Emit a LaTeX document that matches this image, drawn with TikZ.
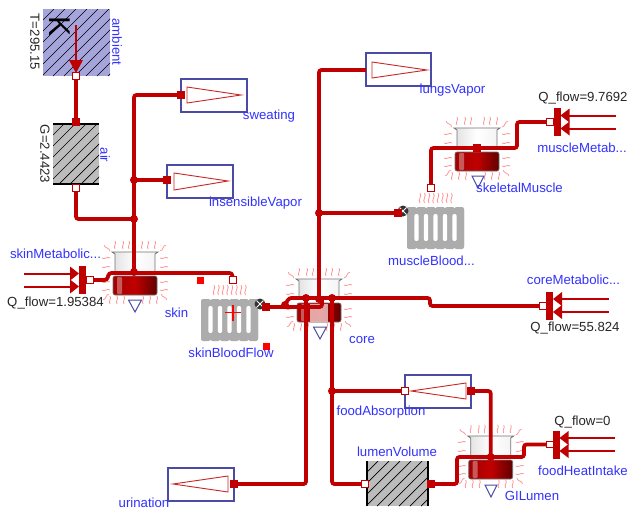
\documentclass[tikz,border=0pt]{standalone}
\usepackage{fontspec}
\setmainfont{Liberation Sans}
\definecolor{wirered}{RGB}{192,0,0}
\definecolor{heatpink}{RGB}{255,150,150}
\definecolor{lblblue}{RGB}{50,50,255}
\definecolor{boxblue}{RGB}{75,75,165}
\definecolor{ambfill}{RGB}{165,165,220}
\definecolor{condfill}{RGB}{188,188,188}
\definecolor{radgrey}{RGB}{172,172,172}
\newcommand{\hatchrect}[5]{%
  \fill[#5] (#1,#2) rectangle (#3,#4);
  \begin{scope}
    \clip (#1,#2) rectangle (#3,#4);
    \foreach \k in {0,11,...,150}{
      \draw[black,line width=.7pt] ({#1+\k-(#4-#2)},#4) -- ({#1+\k},#2);
    }
  \end{scope}}
\tikzset{
  wire/.style={draw=wirered,line width=3.8pt,rounded corners=2.5pt},
  junct/.style={circle,fill=wirered,inner sep=0,minimum size=8pt},
  fport/.style={rectangle,fill=wirered,inner sep=0,minimum size=8pt},
  wport/.style={rectangle,fill=white,draw=wirered,line width=1pt,inner sep=0,minimum size=6.5pt},
  lbl/.style={text=lblblue,inner sep=0,font=\fontsize{13.2}{14}\selectfont},
  val/.style={text=black!85,inner sep=0,font=\fontsize{13.2}{14}\selectfont},
  heat/.style={draw=heatpink,line width=.8pt},
  expbox/.style={draw=boxblue,line width=1.2pt,fill=white},
  expcone/.style={draw=wirered!85!white,line width=.9pt},
  beaker/.pic={
    \foreach \a in {-20,-12,-6,7,13,20}{\draw[heat,shift={(\a,-28)}] (0,-4) .. controls (2,-1.5) and (-2,1.5) .. (0,4);}
    \foreach \a in {-25,-18,-11,8,15,22}{\draw[heat,shift={(\a,27)}] (0,-4) .. controls (2,-1.5) and (-2,1.5) .. (0,4);}
    \foreach \a in {-15,-6,9,17}{
      \draw[heat,shift={(-29,\a)}] (-4,0) .. controls (-1.5,2) and (1.5,-2) .. (4,0);
      \draw[heat,shift={(29,\a)}] (-4,0) .. controls (-1.5,2) and (1.5,-2) .. (4,0);}
    \draw[heat,shift={(-28,-25)},rotate=-45] (-4,0) .. controls (-1.5,2) and (1.5,-2) .. (4,0);
    \draw[heat,shift={(28,-25)},rotate=45] (-4,0) .. controls (-1.5,2) and (1.5,-2) .. (4,0);
    \draw[heat,shift={(-29,24)},rotate=45] (-4,0) .. controls (-1.5,2) and (1.5,-2) .. (4,0);
    \draw[heat,shift={(29,24)},rotate=-45] (-4,0) .. controls (-1.5,2) and (1.5,-2) .. (4,0);
    \path[draw=black!55,line width=.8pt,left color=black!12,right color=black!5,middle color=white]
      (-23,-21) -- (-20,-19) -- (-20,-1) -- (20,-1) -- (20,-19) -- (23,-21) -- cycle;
    \path[draw=black!55,line width=.6pt,rounded corners=2pt,left color=wirered!85!black,right color=wirered!50!black,middle color=wirered]
      (-22,3) -- (-22,22) -- (22,22) -- (22,3) -- cycle;
    \fill[white,opacity=.35,rounded corners=1pt] (-18,4) rectangle (-13,21);
  },
  radiator/.pic={
    \foreach \a in {0,4.5,...,31.5}{\draw[heat,shift={(\a+13,-9)}] (0,-5) .. controls (2.5,-2) and (-2.5,2) .. (0,5);}
    \fill[radgrey,rounded corners=2pt] (0,1) rectangle (57,41);
    \foreach \a in {0,9.5,...,47.5}{\fill[radgrey,rounded corners=2pt] (\a,0) rectangle (\a+9.5,42);}
    \foreach \a in {9.5,19,28.5,38,47.5}{\fill[white,rounded corners=2pt] (\a-2.2,7) rectangle (\a+2.2,34);}
  },
  srcpic/.pic={
    \fill[wirered] (-3.5,-14) rectangle (3.5,14);
    \foreach \s in {-6.5,6.5}{
      \fill[wirered] (3.5,\s) -- (12.5,\s-7) -- (12.5,\s+7) -- cycle;
      \draw[wirered,line width=2pt] (10,\s) -- (59,\s);}
  },
  valvepic/.pic={
    \fill[black!80] (0,0) circle (5.5);
    \draw[white,line width=.8pt] (-3.5,-3.5) -- (3.5,3.5) (-3.5,3.5) -- (3.5,-3.5);
  }
}
\begin{document}
\begin{tikzpicture}[x=1pt,y=-1pt]
\useasboundingbox (0,0) rectangle (629,509);
\clip (0,0) rectangle (629,509);
\fill[white] (0,0) rectangle (629,509);
% ambient
\hatchrect{43}{9}{110}{76}{ambfill}
\node[inner sep=0,rotate=-90,text=black,font=\fontsize{30}{30}\selectfont] (ambK) at (60,27) {K};
\coordinate (ambTop) at (76,25);
\coordinate (pAmb) at (76,76);
% air
\hatchrect{53}{124}{99}{184}{condfill}
\draw[black,line width=1.2pt] (53,124) -- (99,124) (53,184) -- (99,184);
% lumenVolume
\hatchrect{367}{461}{428}{506}{condfill}
\draw[black,line width=1.4pt] (367,461) -- (367,506) (428,461) -- (428,506);
% expansion boxes
\draw[expbox] (181,79) rectangle (247,112);
\draw[expcone] (187,87) -- (187,103) -- (241,95) -- cycle;
\draw[expbox] (167,165) rectangle (233,198);
\draw[expcone] (174,173) -- (174,190) -- (228,181) -- cycle;
\draw[expbox] (366,53) rectangle (431,86);
\draw[expcone] (372,62) -- (372,78) -- (427,70) -- cycle;
\draw[expbox] (405,375) rectangle (471,408);
\draw[expcone] (411,391) -- (466,383) -- (466,399) -- cycle;
\draw[expbox] (168,468) rectangle (234,501);
\draw[expcone] (173,484) -- (228,476) -- (228,492) -- cycle;
% thermal capacities
\pic at (135,273) {beaker};
\pic at (319,300) {beaker};
\fill[white,opacity=.65] (310,304) rectangle (328,322);
\pic at (477,149) {beaker};
\pic at (490.7,457) {beaker};
% radiators
\pic at (201,299) {radiator};
\pic at (407,207) {radiator};
% heat sources
\pic[xscale=-1] at (82.5,280) {srcpic};
\pic at (549.5,305.5) {srcpic};
\pic at (557,122) {srcpic};
\pic at (556,444.5) {srcpic};
% ambient arrow
\draw[wirered,line width=1.3pt] (ambTop) -- (76,60);
\fill[wirered] (69,60) -- (83,60) -- (76,73) -- cycle;
% port coordinates
\coordinate (pAirT) at (76,122);
\coordinate (pAirB) at (76,188);
\coordinate (jAir) at (134,219);
\coordinate (jIns) at (134,180);
\coordinate (pIns) at (167,180);
\coordinate (pSweat) at (181,95);
\coordinate (jSkin) at (134,272);
\coordinate (pSkinSrc) at (90,280);
\coordinate (pSkinRad) at (233,280);
\coordinate (pSkinOut) at (266,307);
\coordinate (jIn) at (285,305);
\coordinate (jC1) at (306,298);
\coordinate (jC2) at (319,299);
\coordinate (jC3) at (332,298);
\coordinate (pLungs) at (366,70);
\coordinate (jMus) at (319,213);
\coordinate (pMusOut) at (398,213);
\coordinate (pUrin) at (234,484);
\coordinate (pLumL) at (365,484);
\coordinate (pLumR) at (431,484);
\coordinate (jFood) at (332,391);
\coordinate (pFoodIn) at (405,391);
\coordinate (pFoodOut) at (471,391);
\coordinate (jGI) at (490.7,457);
\coordinate (pFoodSrc) at (550,444.5);
\coordinate (pCoreSrc) at (543,306);
\coordinate (pMusIn) at (431,188);
\coordinate (jMuscle) at (477,148);
\coordinate (pMusSrc) at (550,122);
% wires
\draw[wire] (pAmb) -- (pAirT);
\draw[wire] (pAirB) |- (jAir);
\draw[wire] (pSweat) -| (jSkin);
\draw[wire] (jIns) -- (pIns);
\draw[wire] (pSkinSrc) -- (107,280) -- (109,273) -- (232,273) -- (pSkinRad);
\draw[wire] (pSkinOut) -- (322,307) -- (322,299);
\draw[wire] (jIn) -- (289,298) -- (jC3) -- (430,298) -- (430,306) -- (pCoreSrc);
\draw[wire] (jC2) |- (pLungs);
\draw[wire] (jMus) -- (pMusOut);
\draw[wire] (jC1) |- (pUrin);
\draw[wire] (jC3) |- (pLumL);
\draw[wire] (jFood) -- (pFoodIn);
\draw[wire] (pFoodOut) -| (jGI);
\draw[wire] (pLumR) -- (457,484) -- (457,457) -- (524,457) -- (524,444.5) -- (pFoodSrc);
\draw[wire] (pMusIn) -- (431,148) -- (517,148) -- (517,122) -- (pMusSrc);
% junctions and ports
\foreach \j in {jAir,jIns,jSkin,jIn,jC1,jC2,jC3,jMus,jFood,jGI}{\node[junct] at (\j) {};}
\node[fport] (npAirT) at (pAirT) {};
\node[fport] (npSweat) at (pSweat) {};
\node[fport] (npIns) at (pIns) {};
\node[fport] (npUrin) at (pUrin) {};
\node[fport] (npLumR) at (pLumR) {};
\node[fport] (npFoodOut) at (pFoodOut) {};
\node[fport] (npMuscle) at (jMuscle) {};
\pic at (260,304) {valvepic};
\pic at (403,211) {valvepic};
\node[fport] (npSkinOut) at (pSkinOut) {};
\node[fport] (npMusOut) at (pMusOut) {};
\node[wport] (npAmb) at (pAmb) {};
\node[wport] (npAirB) at (pAirB) {};
\node[wport] (npSkinSrc) at (pSkinSrc) {};
\node[wport] (npSkinRad) at (pSkinRad) {};
\node[wport] (npLumL) at (pLumL) {};
\node[wport] (npFoodIn) at (pFoodIn) {};
\node[wport] (npFoodSrc) at (pFoodSrc) {};
\node[wport] (npCoreSrc) at (pCoreSrc) {};
\node[wport] (npMusIn) at (pMusIn) {};
\node[wport] (npMusSrc) at (pMusSrc) {};
% temperature triangles
\draw[draw=boxblue,line width=1pt] (128.5,300) -- (141.5,300) -- (135,312) -- cycle;
\draw[draw=boxblue,line width=1pt] (313.5,327) -- (326.5,327) -- (320,339) -- cycle;
\draw[draw=boxblue,line width=1pt] (472,176) -- (484,176) -- (478,188) -- cycle;
\draw[draw=boxblue,line width=1pt] (485,485) -- (497,485) -- (491,497) -- cycle;
% red markers
\fill[red] (197,277) rectangle (203.5,283.5);
\fill[red] (263,343) rectangle (269.5,349.5);
\draw[red,line width=1.3pt] (225,312.5) -- (241,312.5) (233,304.5) -- (233,320.5);
% labels
\node[lbl,rotate=-90] (lAmb) at (117,42) {ambient};
\node[val,rotate=-90] (lT) at (35,42) {T=295.15};
\node[lbl,rotate=-90] (lAir) at (105,155) {air};
\node[val,rotate=-90] (lG) at (45,154) {G=2.4423};
\node[lbl] (lSweat) at (269,116) {sweating};
\node[lbl] (lIns) at (255.5,203) {insensibleVapor};
\node[lbl] (lLungs) at (452.5,90) {lungsVapor};
\node[lbl] (lSkM) at (55.5,254) {skinMetabolic...};
\node[val] (lQ1) at (55.5,303) {Q\_flow=1.95384};
\node[lbl] (lSkin) at (176.5,313) {skin};
\node[lbl] (lSkB) at (231,353) {skinBloodFlow};
\node[lbl] (lCore) at (362,340) {core};
\node[val] (lQ2) at (583,98) {Q\_flow=9.7692};
\node[lbl] (lMM) at (582,148) {muscleMetab...};
\node[lbl] (lSk) at (519.5,188) {skeletalMuscle};
\node[lbl] (lMB) at (431.5,261) {muscleBlood...};
\node[lbl] (lCM) at (573.5,280) {coreMetabolic...};
\node[val] (lQ3) at (575,328) {Q\_flow=55.824};
\node[lbl] (lFA) at (381,412) {foodAbsorption};
\node[val] (lQ4) at (582.5,422) {Q\_flow=0};
\node[lbl] (lFH) at (583,471) {foodHeatIntake};
\node[lbl] (lLV) at (397,452) {lumenVolume};
\node[lbl] (lGI) at (532,496) {GILumen};
\node[lbl] (lUr) at (144,502.5) {urination};
\end{tikzpicture}
\end{document}
